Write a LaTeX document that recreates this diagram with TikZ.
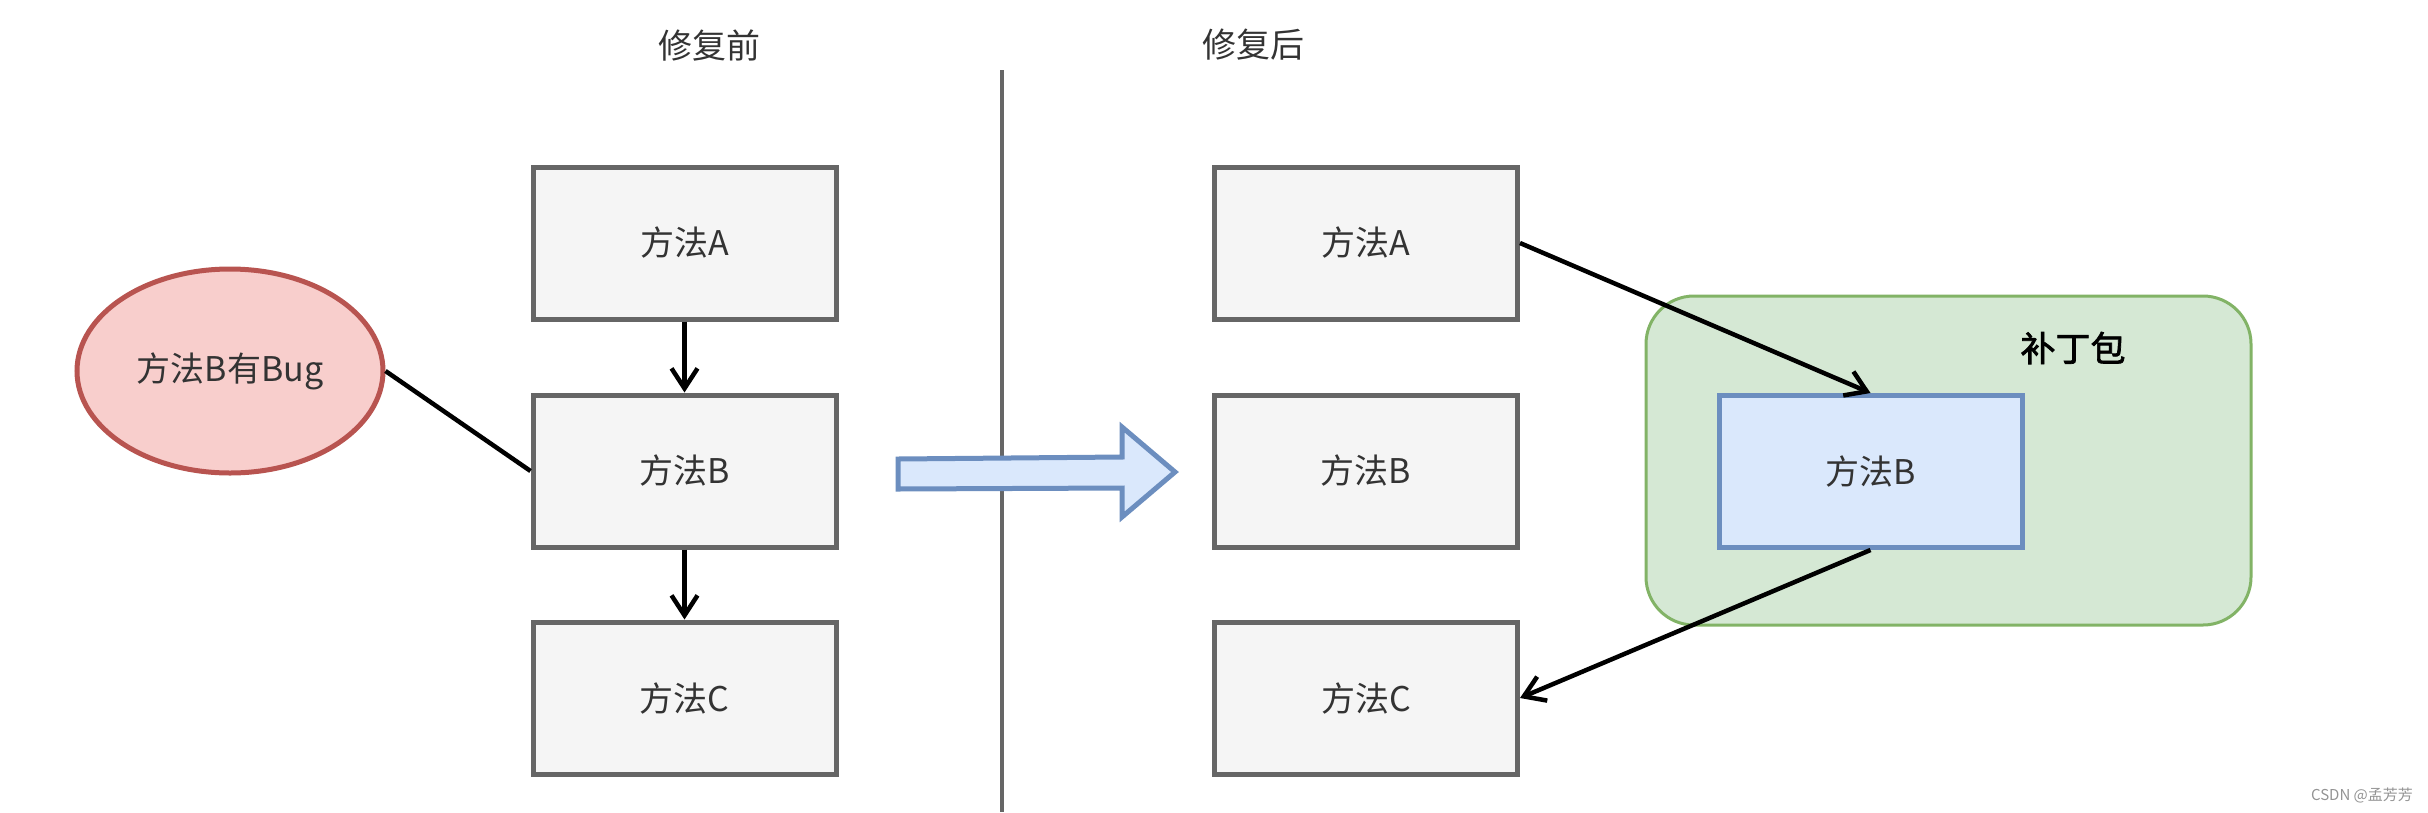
\documentclass[tikz,border=0pt]{standalone}
\usepackage{fontspec}
\setmainfont{Noto Sans CJK SC}[AutoFakeBold=2]
\usetikzlibrary{arrows.meta,shapes.geometric}
\definecolor{boxfill}{HTML}{F5F5F5}
\definecolor{boxline}{HTML}{666666}
\definecolor{bugfill}{HTML}{F8CECC}
\definecolor{bugline}{HTML}{B85450}
\definecolor{grnfill}{HTML}{D5E8D4}
\definecolor{grnline}{HTML}{82B366}
\definecolor{blufill}{HTML}{DAE8FC}
\definecolor{bluline}{HTML}{6C8EBF}
\definecolor{txt}{HTML}{333333}
\tikzset{
  method/.style={rectangle, draw=boxline, fill=boxfill, line width=5pt,
    minimum width=303pt, minimum height=152pt, inner sep=0pt, text=txt,
    font=\fontsize{34}{40}\selectfont},
  conn/.style={draw=black, line width=4.5pt, -{Straight Barb[length=20pt,width=26pt,line width=4.5pt]}},
  header/.style={text=txt, font=\fontsize{34}{40}\selectfont}
}
\begin{document}
\begin{tikzpicture}[x=1pt,y=-1pt]
\useasboundingbox (0,0) rectangle (2428,812);
% separator
\coordinate (septop) at (1002,70);
\coordinate (sepbot) at (1002,812);
\draw[boxline, line width=3.5pt] (septop) -- (sepbot);
% headers
\node[header] (hbefore) at (709,45) {修复前};
\node[header] (hafter) at (1253,45) {修复后};
% left column
\node[method] (la) at (684.5,243) {方法A};
\node[method] (lb) at (684.5,471) {方法B};
\node[method] (lc) at (684.5,698) {方法C};
\node[ellipse, draw=bugline, fill=bugfill, line width=5pt, minimum width=306pt,
  minimum height=204pt, inner sep=0pt, text=txt, font=\fontsize{34}{40}\selectfont]
  (bug) at (230,371) {方法B有Bug};
\draw[black, line width=4.5pt] (bug.east) -- (lb.west);
\draw[conn] (la.south) -- (lb.north);
\draw[conn] (lb.south) -- (lc.north);
% block arrow
\draw[draw=bluline, fill=blufill, line width=5pt, line join=miter]
  (898,459) -- (1122,457) -- (1122,427) -- (1175,472) -- (1122,517) -- (1122,488) -- (898,489) -- cycle;
% right column
\node[method] (ra) at (1366,243) {方法A};
\node[method] (rb) at (1366,471) {方法B};
\node[method] (rc) at (1366,698) {方法C};
\node[rectangle, rounded corners=48pt, draw=grnline, fill=grnfill, line width=3pt,
  minimum width=605pt, minimum height=329pt, inner sep=0pt] (patch) at (1948.5,460.5) {};
\node[text=black, font=\fontsize{35}{40}\selectfont\bfseries] (patchlbl) at (2073,348) {补丁包};
\node[method, draw=bluline, fill=blufill] (nb) at (1870.5,471.5) {方法B};
\draw[conn] (ra.east) -- (nb.north);
\draw[conn] (nb.south) -- (rc.east);
% watermark
\node[text=gray!85, font=\fontsize{15}{18}\selectfont] (wm) at (2362,795) {CSDN @孟芳芳};
\end{tikzpicture}
\end{document}
